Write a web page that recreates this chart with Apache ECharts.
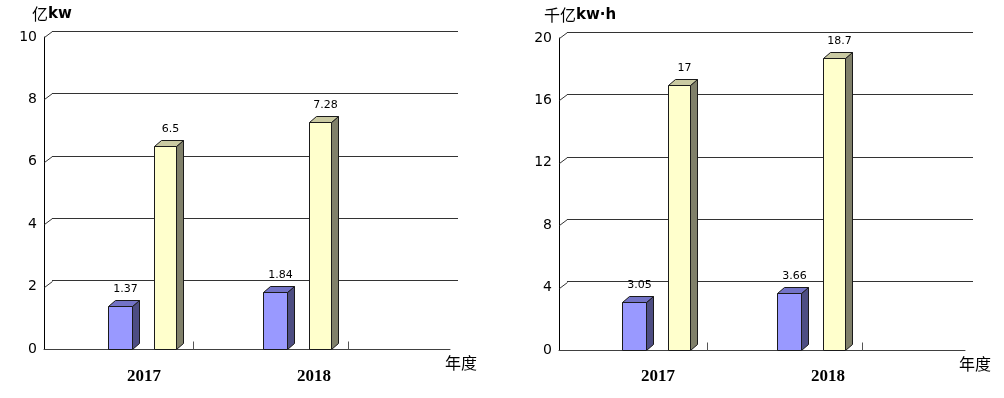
<!DOCTYPE html>
<html>
<head>
<meta charset="utf-8">
<script src="https://cdn.jsdelivr.net/npm/echarts@6/dist/echarts.min.js"></script>
<style>
html,body{margin:0;padding:0;background:#fff;}
#c{width:1004px;height:398px;}
</style>
</head>
<body>
<div id="c"></div>
<script>
// ---- data ----
const categories = ['2017', '2018'];
const capacityBlue = [1.37, 1.84];      // 亿kw
const capacityYellow = [6.5, 7.28];
const energyBlue = [3.05, 3.66];        // 千亿kw·h
const energyYellow = [17, 18.7];
const capacityTicks = [2, 4, 6, 8, 10];
const energyTicks = [4, 8, 12, 16, 20];
const capacityUnit = ['亿', 'kw'];
const energyUnit = ['千亿', 'kw·h'];
const xName = '年度';

// ---- style ----
const DX = 7, DY = -6;          // bar depth
const WALL_DX = 8, WALL_DY = -6; // back wall offset
const BLUE = {front: '#9999FF', top: '#7373C6', side: '#4D4D82', offset: -8, width: 24};
const YEL = {front: '#FFFFCC', top: '#CACAA2', side: '#80806A', offset: 38, width: 22};

const chart = echarts.init(document.getElementById('c'));

const grids = [], xAxes = [], yAxes = [], series = [];

function makeBarRender(st, drawTick) {
  return function (params, api) {
    const cat = api.value(0), val = api.value(1);
    const base = api.coord([cat, 0]);
    const top = api.coord([cat, val]);
    const band = api.size([1, 0])[0];
    const x0 = Math.round(base[0] + st.offset) + 0.5;
    const w = st.width;
    const yb = Math.round(base[1]) + 0.5;
    const yt = Math.round(top[1]) + 0.5;
    const edge = {stroke: '#1a1a1a', lineWidth: 1};
    const children = [
      {type: 'polygon', shape: {points: [[x0 + w, yb], [x0 + w + DX, yb + DY], [x0 + w + DX, yt + DY], [x0 + w, yt]]},
        style: Object.assign({fill: st.side}, edge)},
      {type: 'polygon', shape: {points: [[x0, yt], [x0 + DX, yt + DY], [x0 + w + DX, yt + DY], [x0 + w, yt]]},
        style: Object.assign({fill: st.top}, edge)},
      {type: 'rect', shape: {x: x0, y: yt, width: w, height: yb - yt},
        style: Object.assign({fill: st.front}, edge)},
      {type: 'text', x: x0 + w / 2 + 5, y: yt - 17,
        style: {text: String(val), fill: '#000', font: '11px "DejaVu Sans"', align: 'center', verticalAlign: 'middle'}}
    ];
    if (drawTick) {
      const xt = Math.round(base[0] + band / 2) + 0.5;
      children.push({type: 'line', shape: {x1: xt, y1: yb, x2: xt, y2: yb - 8},
        style: {stroke: '#555', lineWidth: 1}});
    }
    return {type: 'group', children: children};
  };
}

function addChart(k, geo, blue, yellow, ticks, yMax, yInt) {
  const g = 3 * k;
  grids.push({left: geo.left, top: geo.top, width: geo.width, height: geo.height});
  grids.push({left: geo.left + WALL_DX, top: geo.top + WALL_DY, width: geo.width, height: geo.height});
  grids.push({left: geo.catLeft, top: geo.top, width: geo.catWidth, height: geo.height});

  xAxes.push({gridIndex: g, type: 'value', min: 0, max: 1,
    axisLine: {show: true, lineStyle: {color: '#404040', width: 1}},
    axisTick: {show: false}, axisLabel: {show: false}, splitLine: {show: false}});
  xAxes.push({gridIndex: g + 1, type: 'value', min: 0, max: 1, show: false});
  xAxes.push({gridIndex: g + 2, type: 'category', data: categories, boundaryGap: true,
    axisLine: {show: false}, axisTick: {show: false},
    axisLabel: {margin: geo.labelMargin, color: '#000',
      fontFamily: 'Liberation Serif', fontWeight: 'bold', fontSize: 17,
      formatter: function (v, i) { return '{p' + i + '|' + v + '}'; },
      rich: {
        p0: {padding: [0, 0, 0, 57], fontFamily: 'Liberation Serif', fontWeight: 'bold', fontSize: 17, color: '#000'},
        p1: {padding: [0, 0, 0, 87], fontFamily: 'Liberation Serif', fontWeight: 'bold', fontSize: 17, color: '#000'}
      }}});

  yAxes.push({gridIndex: g, type: 'value', min: 0, max: yMax, interval: yInt,
    axisLine: {show: true, lineStyle: {color: '#000', width: 1}},
    axisTick: {show: false},
    axisLabel: {margin: 7, color: '#000', fontFamily: 'DejaVu Sans', fontSize: 14},
    splitLine: {show: false}});
  yAxes.push({gridIndex: g + 1, type: 'value', min: 0, max: yMax, interval: yInt,
    axisLine: {show: false}, axisTick: {show: false}, axisLabel: {show: false},
    splitLine: {show: true, showMinLine: false, lineStyle: {color: '#333', width: 1}}});
  yAxes.push({gridIndex: g + 2, type: 'value', min: 0, max: yMax, interval: yInt, show: false});

  series.push({type: 'custom', xAxisIndex: g, yAxisIndex: g, silent: true,
    data: ticks.map(v => [0, v]),
    renderItem: function (params, api) {
      const p = api.coord([0, api.value(1)]);
      const x = Math.round(p[0]) + 0.5, y = Math.round(p[1]) + 0.5;
      return {type: 'line', shape: {x1: x, y1: y, x2: x + WALL_DX, y2: y + WALL_DY},
        style: {stroke: '#333', lineWidth: 1}};
    }});

  series.push({type: 'custom', xAxisIndex: g + 2, yAxisIndex: g + 2, silent: true,
    encode: {x: 0, y: 1},
    data: categories.map((c, i) => [i, blue[i]]),
    renderItem: makeBarRender(BLUE, true)});
  series.push({type: 'custom', xAxisIndex: g + 2, yAxisIndex: g + 2, silent: true,
    encode: {x: 0, y: 1},
    data: categories.map((c, i) => [i, yellow[i]]),
    renderItem: makeBarRender(YEL, false)});
}

addChart(0, {left: 44, top: 37, width: 406, height: 312, catLeft: 38, catWidth: 310, labelMargin: 19},
  capacityBlue, capacityYellow, capacityTicks, 10, 2);
addChart(1, {left: 559, top: 38, width: 406, height: 312, catLeft: 552, catWidth: 310, labelMargin: 18},
  energyBlue, energyYellow, energyTicks, 20, 4);

const unitRich = {
  c: {fontFamily: '"Noto Sans CJK SC"', fontSize: 16, fill: '#000', fontWeight: 'normal'},
  l: {fontFamily: '"DejaVu Sans"', fontSize: 15, fill: '#000', fontWeight: 'bold'}
};
const nameFont = {fontFamily: '"Noto Sans CJK SC"', fontSize: 16, fill: '#000'};

chart.setOption({
  animation: false,
  backgroundColor: '#fff',
  grid: grids,
  xAxis: xAxes,
  yAxis: yAxes,
  series: series,
  graphic: [
    {type: 'text', left: 32, top: 6, style: {text: '{c|' + capacityUnit[0] + '}{l|' + capacityUnit[1] + '}', rich: unitRich}},
    {type: 'text', left: 544, top: 7, style: {text: '{c|' + energyUnit[0] + '}{l|' + energyUnit[1] + '}', rich: unitRich}},
    {type: 'text', left: 445, top: 355, style: Object.assign({text: xName}, nameFont)},
    {type: 'text', left: 959, top: 356, style: Object.assign({text: xName}, nameFont)}
  ]
});
</script>
</body>
</html>
